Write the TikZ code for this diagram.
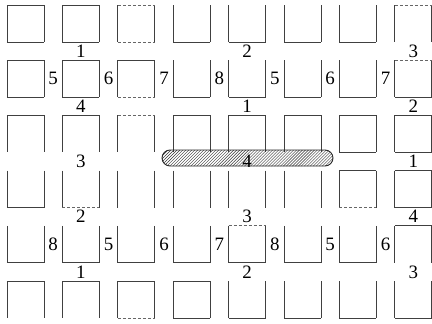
\documentclass[tikz,border=0pt]{standalone}
\usepackage{fontspec}
\setmainfont{Liberation Serif}
\usetikzlibrary{patterns}
\tikzset{
  sq/.style={minimum size=37bp, inner sep=0pt, outer sep=0pt},
  side/.style={draw=black!75, line width=0.9bp},
  e0/.style={draw=none},
  e1/.style={draw=black!75, line width=0.9bp},
  e2/.style={draw=black!60, line width=0.9bp, dash pattern=on 3bp off 2bp},
  lab/.style={inner sep=0pt, font=\fontsize{19}{20}\selectfont},
  pill/.style={draw=black!85, line width=0.9bp, rounded corners=8bp, pattern=north east lines, pattern color=black!80}
}
\begin{document}
\begin{tikzpicture}[x=1bp, y=-1bp]
\useasboundingbox (0,0) rectangle (432,324);
% squares: row/col/top/bottom
\foreach \r/\c/\t/\b in {
  1/1/1/1, 1/2/1/1, 1/3/2/2, 1/4/0/1, 1/5/0/1, 1/6/0/1, 1/7/0/1, 1/8/2/0,
  2/1/1/1, 2/2/1/1, 2/3/1/2, 2/4/0/1, 2/5/0/1, 2/6/0/1, 2/7/0/1, 2/8/2/1,
  3/1/1/0, 3/2/1/0, 3/3/2/0, 3/4/1/0, 3/5/1/0, 3/6/1/0, 3/7/1/1, 3/8/1/1,
  4/1/0/1, 4/2/0/2, 4/3/0/0, 4/4/0/0, 4/5/0/0, 4/6/0/0, 4/7/1/2, 4/8/1/1,
  5/1/0/1, 5/2/0/1, 5/3/0/1, 5/4/0/1, 5/5/2/1, 5/6/0/1, 5/7/0/1, 5/8/1/0,
  6/1/1/0, 6/2/1/0, 6/3/1/2, 6/4/1/1, 6/5/0/1, 6/6/0/1, 6/7/0/1, 6/8/0/1} {
  \node[sq] (s-\r-\c) at ({25.5+55.4*(\c-1)}, {23.5+55.2*(\r-1)}) {};
  \draw[side] (s-\r-\c.north west) -- (s-\r-\c.south west);
  \draw[side] (s-\r-\c.north east) -- (s-\r-\c.south east);
  \draw[e\t] (s-\r-\c.north west) -- (s-\r-\c.north east);
  \draw[e\b] (s-\r-\c.south west) -- (s-\r-\c.south east);
}
% hatched bar
\draw[pill] (162,150) rectangle (333,166);
% labels between rows
\foreach \g/\a/\b/\d in {1/1/2/3, 2/4/1/2, 3/3/4/1, 4/2/3/4, 5/1/2/3} {
  \node[lab] (ga-\g) at (80.9, {51.1+55.2*(\g-1)}) {\a};
  \node[lab] (gb-\g) at (247.1, {51.1+55.2*(\g-1)}) {\b};
  \node[lab] (gc-\g) at (413.3, {51.1+55.2*(\g-1)}) {\d};
}
% side labels row 2
\foreach \c/\v in {1/5, 2/6, 3/7, 4/8, 5/5, 6/6, 7/7} {
  \node[lab] (m-\c) at ({55.4*\c-2.2}, 78.7) {\v};
}
% side labels row 5
\foreach \c/\v in {1/8, 2/5, 3/6, 4/7, 5/8, 6/5, 7/6} {
  \node[lab] (n-\c) at ({55.4*\c-2.2}, 244.3) {\v};
}
\end{tikzpicture}
\end{document}
